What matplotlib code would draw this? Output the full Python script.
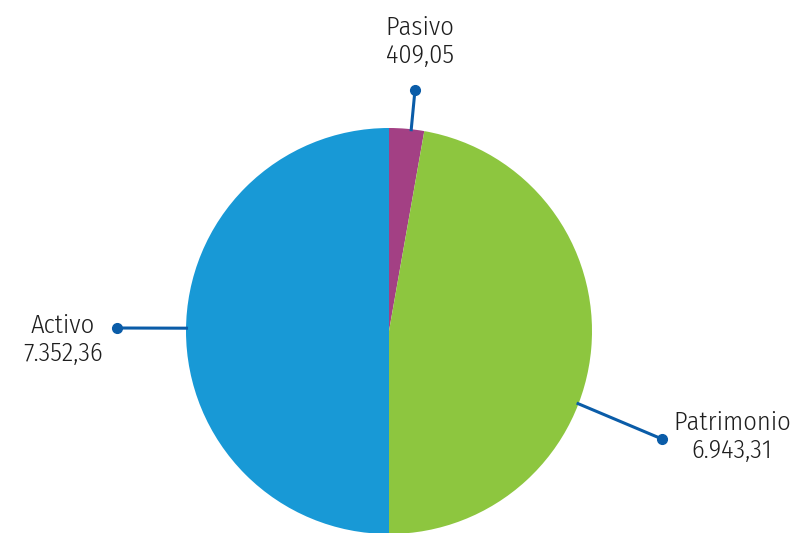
import numpy as np
import matplotlib.pyplot as plt
from matplotlib import font_manager as fm

labels = ["Pasivo", "Patrimonio", "Activo"]
values = [409.05, 6943.31, 7352.36]
value_text = ["409,05", "6.943,31", "7.352,36"]
colors = ["#a34084", "#8dc63f", "#1899d6"]

# leader: angle on the rim (deg), dot position and label centre, in pixels (top-left origin)
anchor_angle = [83.7, -21.0, 179.2]
dot_pos = [(415, 90), (662, 439), (117, 328)]
label_pos = [(420, 42), (732, 437), (63, 340)]


def wnum(f):
    w = f.weight
    if isinstance(w, str):
        w = {"ultralight": 200, "light": 300, "normal": 400, "regular": 400,
             "book": 400, "medium": 500}.get(w.lower(), 700)
    return w


# pick a light / regular condensed face
fprop = fm.FontProperties(family="DejaVu Sans")
for fam in ["Fira Sans Condensed", "Open Sans Condensed", "Roboto Condensed",
            "Encode Sans Condensed", "PT Sans Narrow", "Asap Condensed"]:
    cands = [f for f in fm.fontManager.ttflist
             if f.name == fam and f.style == "normal" and 300 <= wnum(f) <= 400
             and "italic" not in f.fname.lower()]
    if cands:
        cands.sort(key=lambda f: abs(wnum(f) - 300))
        fprop = fm.FontProperties(fname=cands[0].fname)
        break

W, H = 791, 533
fig = plt.figure(figsize=(W / 100, H / 100), dpi=100)
ax = fig.add_axes([0, 0, 1, 1])

cx, cy, r = 389, H - 331, 203
ax.pie(values, colors=colors, startangle=90, counterclock=False,
       center=(cx, cy), radius=r, frame=True,
       wedgeprops=dict(linewidth=0))
ax.set_xlim(0, W)
ax.set_ylim(0, H)
ax.set_aspect("equal")
ax.axis("off")

line_col = "#0a5ca8"
for lab, vt, ang, dp, lp in zip(labels, value_text, anchor_angle, dot_pos, label_pos):
    a = np.deg2rad(ang)
    x0, y0 = cx + (r - 2) * np.cos(a), cy + (r - 2) * np.sin(a)
    x1, y1 = dp[0], H - dp[1]
    ax.plot([x0, x1], [y0, y1], color=line_col, lw=2.2, solid_capstyle="butt")
    ax.plot(x1, y1, "o", color=line_col, ms=7)
    ax.text(lp[0], H - lp[1], lab + "\n" + vt, ha="center", va="center",
            fontproperties=fprop, fontsize=19, color="#1e1e1e", linespacing=1.15)

fig.savefig("out.png", dpi=100)
